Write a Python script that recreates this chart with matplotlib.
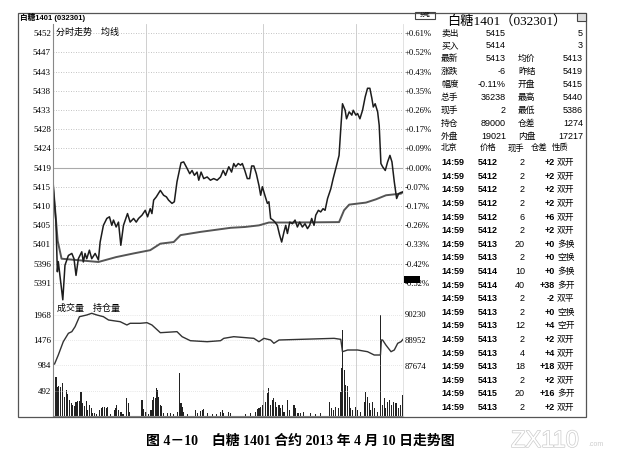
import matplotlib.pyplot as plt
from matplotlib.patches import Rectangle
import matplotlib.patheffects as pe

plt.rcParams['font.family'] = ['Liberation Sans', 'Noto Sans CJK SC']
plt.rcParams['axes.unicode_minus'] = False

# ---- data (minutes since the open, 0..225) ----
prev_close = 5419
price_step = 4.72
price_labels = ['5452', '5447', '5443', '5438', '5433', '5428', '5424',
                '5419', '5415', '5410', '5405', '5401', '5396', '5391']
pct_labels = ['+0.61%', '+0.52%', '+0.43%', '+0.35%', '+0.26%', '+0.17%', '+0.09%',
              '+0.00%', '-0.07%', '-0.17%', '-0.26%', '-0.33%', '-0.42%', '-0.52%']

price_t = [0, 1.9, 2.8, 3.4, 6.3, 7.7, 9.9, 12.1, 13.5, 14.8, 16.3, 18.5, 19.5, 20.6, 21.7,
           23.4, 24.9, 27.1, 29.2, 30.3, 32.4, 34.6, 36.3, 37.8, 38.9, 40.6, 42.1, 43.6, 45.3,
           47.9, 49.6, 51.8, 53.5, 55, 57.2, 59.3, 60.8, 62.5, 63.6, 64.7, 66.4, 69, 71.1, 72.9,
           74.3, 76.5, 78, 79.7, 82.3, 84, 86.2, 87.9, 89.4, 90.9, 92.6, 93.7, 95.2, 96.9, 99.1,
           101.2, 103.3, 105.5, 107.7, 109.4, 110.9, 113, 114.8, 116.2, 117.4, 119.1, 120.6,
           121.7, 123.3, 124.9, 126.4, 127.7, 129.1, 130.7, 132.4, 133.5, 134.6, 136.2, 137.8,
           138.8, 139.9, 141.4, 142.7, 144.2, 145.7, 147, 148.5, 149.6, 150.7, 152.2, 153.9,
           155.6, 157.1, 158.6, 160.3, 162, 163.6, 165, 166.3, 167.8, 168.9, 170.6, 172.1, 173.6,
           174.9, 176.5, 178.6, 180.1, 181.8, 183.9, 185, 186.1, 187.8, 188.7, 190.4, 192.1, 193,
           194.7, 195.8, 197.3, 199, 200.7, 202.2, 203.7, 205, 205.9, 207.1, 208.7, 209.7, 210.8,
           211.9, 213.6, 215.1, 216.6, 217.9, 219.4, 220.9, 222.2, 223.7, 225]
price_v = [5415, 5405.7, 5393.4, 5395.9, 5386.5, 5395, 5397.4, 5397.9, 5396.6, 5392.5, 5396.6,
           5398.3, 5395.8, 5397.9, 5396.6, 5398.7, 5396.6, 5397.9, 5396.3, 5400.7, 5404.8, 5406.5,
           5406.9, 5404.8, 5406.1, 5404.4, 5405.6, 5399.9, 5404.8, 5407.7, 5405.6, 5406.5, 5405.6,
           5406.5, 5407.3, 5408.5, 5406.9, 5408.9, 5407.7, 5411, 5411.8, 5413.4, 5412.2, 5411.8,
           5411, 5410.2, 5410.6, 5415.5, 5420.2, 5420.4, 5418.8, 5417.5, 5418.3, 5417.1, 5417.9,
           5415.9, 5417.9, 5416.3, 5416.7, 5415.9, 5416.3, 5415.9, 5416.7, 5418.3, 5417.1, 5419.2,
           5417.9, 5420, 5419.2, 5420, 5419.6, 5420, 5418.3, 5416.3, 5416.3, 5419.4, 5419.4,
           5417.5, 5414.6, 5412.2, 5414.3, 5412.2, 5410.2, 5410.6, 5406.5, 5406.1, 5405.6, 5404.8,
           5402.4, 5400.7, 5403.2, 5404.8, 5402.8, 5405.6, 5405.2, 5406.1, 5404.4, 5405.6, 5404.4,
           5405.2, 5404, 5404.8, 5406.5, 5404.8, 5407.3, 5408.5, 5408.1, 5408.9, 5408.5, 5411.4,
           5413.8, 5416.3, 5418.8, 5422, 5428.6, 5434.7, 5433.1, 5431, 5432.7, 5431.9, 5433.1,
           5431.9, 5432.3, 5431, 5433.1, 5436.4, 5438.5, 5438.5, 5436, 5433.9, 5434.7, 5432.7,
           5429.4, 5420, 5419.2, 5418.3, 5420.4, 5422, 5420.4, 5415.5, 5411.4, 5412.6, 5412.9, 5413]

avg_t = [0, 1.5, 3, 5.5, 29.2, 40.6, 51.8, 62.5, 69, 77.6, 82, 94.9, 114.2, 123.3, 132.4,
         138.8, 153.9, 183.9, 187.1, 190.4, 201.2, 207.6, 214.1, 223.7, 225]
avg_v = [5415, 5408, 5401, 5396.6, 5395.8, 5397, 5397.9, 5398.7, 5400.3, 5400.7, 5402.4,
         5403.2, 5404.2, 5404.4, 5404.8, 5405.5, 5405.5, 5405.6, 5408.5, 5409.9, 5410.4,
         5411.2, 5412.2, 5412.6, 5413]

vol_t = [1.9, 2.8, 3.7, 5, 6, 7.1, 8.4, 9.5, 10.5, 11.6, 12.7, 13.8, 14.8, 15.9, 17, 18, 19.1,
         20.2, 21.3, 22.4, 23.4, 24.5, 25.6, 26.7, 28.2, 29.9, 31, 32.1, 33.2, 34.3, 35.3, 36.9,
         39.4, 40.3, 41.1, 42.2, 43.7, 45, 47.5, 48.4, 49.3, 57.2, 58.3, 59.8, 61.5, 63, 63.9,
         64.8, 65.6, 66.4, 67.3, 68.1, 69, 69.9, 71.2, 73.4, 75.5, 77.7, 79.8, 81.4, 82.3, 83.2,
         84, 86.2, 91.5, 92.6, 94.8, 95.9, 97, 99.1, 102.3, 105.1, 107.7, 108.7, 109.8, 113,
         114.1, 123.8, 127, 130.2, 131.3, 132.4, 133.5, 134.6, 135.6, 136.7, 137.8, 138.8, 139.9,
         141, 142, 143.1, 143.8, 145.3, 146.4, 147.4, 148.5, 151, 152.3, 154.9, 156, 157.5, 159,
         161.2, 165.5, 168.7, 171.9, 177.5, 179, 180.3, 181.8, 183.3, 184.6, 185.5, 186.1, 187.2,
         188.3, 189.4, 190.4, 191.5, 192.6, 194.7, 195.8, 197.9, 200.1, 201.1, 202.2, 203.3,
         204.3, 205.4, 206.5, 208.6, 210.8, 211.9, 213, 214, 215.1, 216.2, 217.7, 219, 220.5,
         222, 223.3, 224.8]
vol_v = [752, 570, 583, 570, 648, 375, 506, 428, 311, 246, 214, 194, 279, 298, 292, 473, 246,
         194, 298, 117, 214, 149, 52, 65, 40, 117, 149, 169, 169, 149, 182, 40, 117, 149, 214,
         117, 84, 40, 344, 259, 84, 311, 130, 84, 40, 117, 311, 375, 344, 538, 506, 363, 214,
         194, 52, 65, 52, 40, 84, 843, 246, 182, 84, 40, 117, 65, 104, 117, 130, 52, 40, 40, 84,
         117, 65, 84, 65, 40, 65, 84, 130, 149, 169, 214, 506, 279, 441, 538, 214, 311, 344,
         279, 182, 214, 149, 214, 84, 311, 117, 214, 149, 65, 52, 84, 65, 40, 65, 279, 149, 117,
         182, 149, 473, 928, 1673, 895, 603, 583, 375, 149, 117, 169, 117, 84, 279, 473, 375,
         246, 117, 279, 149, 84, 1968, 214, 344, 149, 279, 311, 214, 279, 246, 149, 214, 408]

oi_t = [1, 3.4, 6.6, 9.9, 12.1, 14.2, 17, 21.7, 24.9, 28.2, 32.4, 35.7, 40, 43.2, 47.5, 49.6,
        56.1, 60.4, 63.6, 69, 79.7, 83, 88.3, 99.1, 107.7, 109.8, 116.2, 129.1, 132.4, 135.6,
        139.9, 142, 145.3, 159.2, 180.7, 185, 186.1, 189.4, 195.8, 202.2, 206.5, 210.5, 211.1,
        211.9, 214, 217.3, 219.4, 221.6, 223.7, 225]
oi_v = [87750, 88200, 88867, 89288, 89370, 89620, 90120, 90205, 90290, 90205, 90120, 89954,
        89905, 89869, 89704, 89789, 89789, 89820, 89704, 89318, 89370, 89118, 88917, 88867,
        88917, 89035, 89118, 89035, 88867, 89035, 88952, 88787, 88952, 88985, 89035, 88985,
        88366, 88451, 88451, 88366, 88200, 88200, 88952, 88952, 88700, 88366, 88451, 88787,
        88867, 88985]

vol_ticks = [492, 984, 1476, 1968]
oi_ticks = [87674, 88952, 90230]
grid_minutes = [60, 135, 195]

quote_l_names = ['卖出', '买入', '最新', '涨跌', '幅度', '总手', '现手', '持仓', '外盘']
quote_l_vals = ['5415', '5414', '5413', '-6', '-0.11%', '36238', '2', '89000', '19021']
quote_r_names = ['', '', '均价', '昨结', '开盘', '最高', '最低', '仓差', '内盘']
quote_r_vals = ['5', '3', '5413', '5419', '5415', '5440', '5386', '1274', '17217']

tick_header = ['北京', '价格', '现手', '仓差', '性质']
tick_time = ['14:59'] * 19
tick_price = ['5412', '5412', '5412', '5412', '5412', '5412', '5413', '5413', '5414', '5414',
              '5413', '5413', '5413', '5413', '5413', '5413', '5413', '5415', '5413']
tick_qty = ['2', '2', '2', '2', '6', '2', '20', '2', '10', '40',
            '2', '2', '12', '2', '4', '18', '2', '20', '2']
tick_oi = ['+2', '+2', '+2', '+2', '+6', '+2', '+0', '+0', '+0', '+38',
           '-2', '+0', '+4', '+2', '+4', '+18', '+2', '+16', '+2']
tick_kind = ['双开', '双开', '双开', '双开', '双开', '双开', '多换', '空换', '多换', '多开',
             '双平', '空换', '空开', '双开', '双开', '双开', '双开', '多开', '双开']

# ---- figure in pixel-like coordinates ----
W, H = 628, 462
fig = plt.figure(figsize=(6.28, 4.62), dpi=100)
fig.patch.set_facecolor('white')


def fx(x):
    return x / W


def fy(y):
    return 1 - y / H


def ftext(x, y, s, **kw):
    fig.text(fx(x), fy(y), s, **kw)


serif = ['Liberation Serif', 'Noto Sans CJK SC']
dot = (0, (1, 2))

# price panel
ax = fig.add_axes([fx(53), fy(302), fx(403) - fx(53), fy(24) - fy(302)])
ticks = [prev_close + k * price_step for k in range(7, -7, -1)]
ylo = prev_close - 7 * price_step
ax.set_xlim(0, 225)
ax.set_ylim(ylo, ylo + 278 * price_step / 19.2)
for t in ticks:
    if t == prev_close:
        ax.axhline(t, color='#aaaaaa', lw=0.8)
    else:
        ax.axhline(t, color='#b0b0b0', lw=0.6, ls=dot)
ax.axhline(ylo, color='#999999', lw=0.6, ls=dot)
for m in grid_minutes:
    ax.axvline(m, color='#c8c8c8', lw=0.6)
ax.plot(avg_t, avg_v, color='#555555', lw=1.4)
ax.plot(price_t, price_v, color='#1c1c1c', lw=1.1)
ax.set_yticks(ticks)
ax.set_yticklabels(price_labels, family=serif, fontsize=6.5)
ax.set_xticks([])
ax.tick_params(length=0, pad=1.5)
for s in ['top', 'bottom', 'right']:
    ax.spines[s].set_visible(False)
ax.spines['left'].set_color('#888888')
ax.spines['left'].set_linewidth(0.8)

axr = ax.twinx()
axr.set_ylim(ax.get_ylim())
axr.set_yticks(ticks)
axr.set_yticklabels(pct_labels, family=serif, fontsize=6.2)
axr.tick_params(length=0, pad=1)
for s in ['top', 'bottom', 'left']:
    axr.spines[s].set_visible(False)
axr.spines['right'].set_color('#dddddd')
axr.spines['right'].set_linewidth(0.6)

# volume / open interest panel
axv = fig.add_axes([fx(53), fy(416), fx(403) - fx(53), fy(302) - fy(416)])
axv.set_xlim(0, 225)
axv.set_ylim(0, 114 * 19.45)
for t in vol_ticks:
    axv.axhline(t, color='#d0d0d0', lw=0.5, ls=dot)
for m in grid_minutes:
    axv.axvline(m, color='#c8c8c8', lw=0.6)
axv.bar(vol_t, vol_v, width=0.7, color='#222222')
axv.set_yticks(vol_ticks)
axv.set_yticklabels([str(v) for v in vol_ticks], family=serif, fontsize=6.5)
axv.set_xticks([])
axv.tick_params(length=0, pad=1.5)
axv.spines['top'].set_visible(False)
axv.spines['right'].set_visible(False)
axv.spines['left'].set_color('#888888')
axv.spines['bottom'].set_color('#888888')

axo = axv.twinx()
axo.set_ylim(85144, 90856)
axo.plot(oi_t, oi_v, color='#333333', lw=1.0)
axo.set_yticks(oi_ticks)
axo.set_yticklabels([str(v) for v in oi_ticks], family=serif, fontsize=6.2)
axo.tick_params(length=0, pad=1)
for s in ['top', 'bottom', 'left']:
    axo.spines[s].set_visible(False)
axo.spines['right'].set_color('#dddddd')
axo.spines['right'].set_linewidth(0.6)

# panel captions
ftext(56, 32, '分时走势　均线', fontsize=6.5, va='center')
ftext(57, 308, '成交量　持仓量', fontsize=6.5, va='center')
ftext(20, 17, '白糖1401 (032301)', fontsize=5.5, weight='bold', va='center')

# black block over the lowest percent label
fig.add_artist(Rectangle((fx(404), fy(283)), 16 / W, 7 / H, transform=fig.transFigure,
                         facecolor='black', edgecolor='none'))

# outer frame
fig.add_artist(Rectangle((fx(18), fy(417)), (586 - 18) / W, (417 - 13) / H,
                         transform=fig.transFigure, fill=False, edgecolor='#555555', lw=0.9))

# right quote panel
ftext(507, 21, '白糖1401（032301）', family=serif, fontsize=9.5, ha='center', va='center')
fig.add_artist(Rectangle((fx(415), fy(19)), 20 / W, 7 / H, transform=fig.transFigure,
                         fill=False, edgecolor='#444444', lw=0.8))
ftext(425, 15.5, '分笔', fontsize=4, ha='center', va='center')
fig.add_artist(Rectangle((fx(577), fy(21)), 9 / W, 8 / H, transform=fig.transFigure,
                         facecolor='#dddddd', edgecolor='#444444', lw=0.8))

row0, rstep = 33, 12.9
for i in range(len(quote_l_names)):
    y = row0 + i * rstep
    ftext(441, y, quote_l_names[i], fontsize=6.3, va='center')
    ftext(506, y, quote_l_vals[i], fontsize=6.5, ha='right', va='center')
    ftext(518, y, quote_r_names[i], fontsize=6.3, va='center')
    ftext(583, y, quote_r_vals[i], fontsize=6.5, ha='right', va='center')

hx = [441, 480, 508, 531, 552]
for x, s in zip(hx, tick_header):
    ftext(x, 148, s, fontsize=6.0, va='center')

trow0, tstep = 162.7, 13.6
for i in range(len(tick_time)):
    y = trow0 + i * tstep
    ftext(441, y, tick_time[i], fontsize=6.5, weight='bold', va='center')
    ftext(498, y, tick_price[i], fontsize=6.5, weight='bold', ha='right', va='center')
    ftext(525, y, tick_qty[i], fontsize=6.5, ha='right', va='center')
    ftext(555, y, tick_oi[i], fontsize=6.5, weight='bold', ha='right', va='center')
    ftext(557, y, tick_kind[i], fontsize=6.3, va='center')

# figure caption and watermark
ftext(300, 441, '图 4－10　白糖 1401 合约 2013 年 4 月 10 日走势图', family=serif,
      fontsize=10, weight='bold', ha='center', va='center')
ftext(511, 441, 'ZX110', fontsize=17, color='white', va='center',
      path_effects=[pe.withStroke(linewidth=1.0, foreground='#cccccc')])
ftext(588, 444, '.com', fontsize=5, color='#cccccc', va='center')

fig.savefig('out.png', dpi=100, facecolor='white')
